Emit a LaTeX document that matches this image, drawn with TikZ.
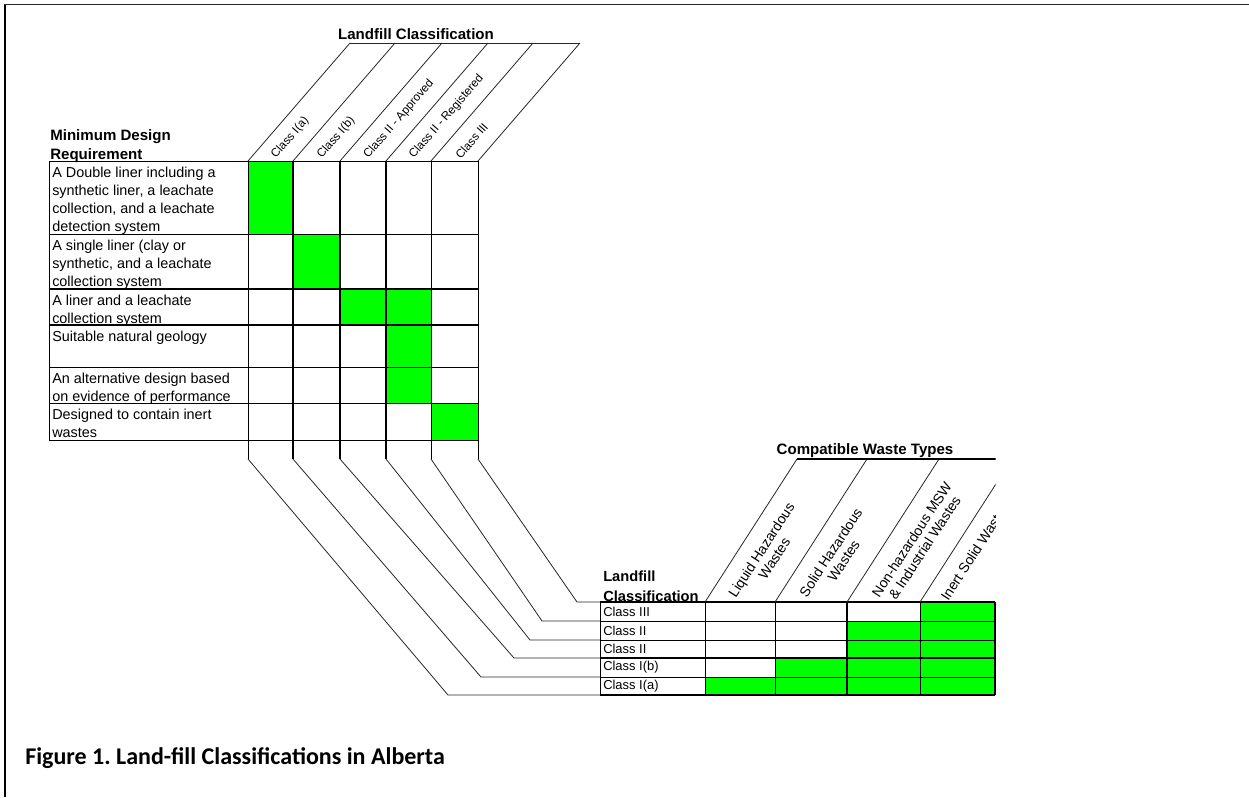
\documentclass[tikz,border=0pt]{standalone}
\usepackage{fontspec}
\setmainfont{Liberation Sans}
\newfontfamily\captionfont{Carlito}
\usepackage{tikz}
\usetikzlibrary{positioning}
\frenchspacing
\definecolor{cellgreen}{RGB}{0,255,0}
\tikzstyle{req} = [anchor=north west, inner sep=0pt, align=left, text=black, font=\fontsize{10.8}{13.5}\selectfont]
\tikzstyle{head} = [anchor=north west, inner sep=0pt, align=left, text=black, font=\bfseries\fontsize{11.3}{14.5}\selectfont]
\tikzstyle{rowlabel} = [anchor=west, inner sep=0pt, text=black, font=\fontsize{9.7}{11}\selectfont]

\begin{document}
\begin{tikzpicture}[x=0.75pt, y=-0.75pt,
  gridline/.style={line width=0.75pt, black},
  boldline/.style={line width=1.5pt, black},
  slant/.style={line width=0.6pt, black!85},
  classlabel/.style={anchor=west, rotate=49, inner sep=0pt, font=\fontsize{8.8}{10}\selectfont},
  wastelabel/.style={anchor=west, rotate=57, inner sep=0pt, align=center, font=\fontsize{10.5}{11.5}\selectfont}]
  \useasboundingbox (0,0) rectangle (1249,797);
  % draw page frame
  \draw[line width=1.5pt] (5,797) -- (5,4.5);
  \draw[line width=1.2pt, black!85] (4,4.5) -- (1249,4.5);
  % draw green cells of design table
  \foreach \xa/\ya/\xb/\yb in {248/161/293/234, 293/234/340/289, 340/289/431/325, 386/325/431/403, 431/403/478/440}
    \fill[cellgreen] (\xa,\ya) rectangle (\xb,\yb);
  % draw grid of design table
  \foreach \y in {161,234,367,403,440}
    \draw[gridline] (49,\y) -- (478,\y);
  \foreach \y in {289,325}
    \draw[boldline] (49,\y) -- (478,\y);
  \draw[gridline] (49,161) -- (49,440);
  \foreach \x in {248,431,478}
    \draw[gridline] (\x,161) -- (\x,459);
  \foreach \x in {293,340,386}
    \draw[boldline] (\x,161) -- (\x,459);
  % draw slanted column heads
  \foreach \x in {248,293,340,386,431,478}
    \draw[slant] (\x,161) -- ++(102,-118);
  \draw[slant] (350,43) -- (580,43);
  \node[font=\bfseries\fontsize{11.3}{12}\selectfont, inner sep=0pt] (design) at (416,34) {Landfill Classification};
  \foreach \t/\x [count=\i] in {Class I(a)/270.5, Class I(b)/316.5, Class II - Approved/363, Class II - Registered/408.5, Class III/454.5}
    \node[classlabel] (cl\i) at (\x+3,157) {\t};
  % draw requirement texts
  \node[head] (minreq) at (50,129) {Minimum Design\\Requirement};
  \foreach \r/\t [count=\i] in {161/{A Double liner including a\\synthetic liner, a leachate\\collection, and a leachate\\detection system},
      234/{A single liner (clay or\\synthetic, and a leachate\\collection system},
      289/{A liner and a leachate\\collection system},
      325/{Suitable natural geology},
      367/{An alternative design based\\on evidence of performance},
      403/{Designed to contain inert\\wastes}}
    \node[req] (req\i) at (52,\r+6) {\t};
  % draw green cells of waste table
  \foreach \xa/\ya/\xb/\yb in {920/602/995/621, 847/621/995/658, 775/658/995/677, 705/677/995/695}
    \fill[cellgreen] (\xa,\ya) rectangle (\xb,\yb);
  % draw grid of waste table
  \foreach \y in {621,640,677}
    \draw[gridline] (600,\y) -- (995,\y);
  \foreach \y in {602,658,695}
    \draw[boldline] (600,\y) -- (995,\y);
  \draw[gridline] (600,602) -- (600,695);
  \foreach \x in {705,775,920}
    \draw[gridline] (\x,602) -- (\x,695);
  \foreach \x in {847,995}
    \draw[boldline] (\x,602) -- (\x,695);
  % draw slanted waste heads, cut at the right edge
  \begin{scope}
    \clip (0,0) rectangle (995.5,797);
    \foreach \x in {705,775,847,920}
      \draw[slant] (\x,602) -- ++(92,-143);
    \draw[boldline] (797,459) -- (1000,459);
    \foreach \t/\x [count=\i] in {{Liquid Hazardous\\Wastes}/738, {Solid Hazardous\\Wastes}/809, {Non-hazardous MSW\\\& Industrial Wastes}/881.5}
      \node[wastelabel] (wl\i) at (\x,600) {\t};
    \node[wastelabel] (wl4) at (944,599) {Inert Solid Wastes};
  \end{scope}
  \node[font=\bfseries\fontsize{11.3}{12}\selectfont, inner sep=0pt] (waste) at (865,451) {Compatible Waste Types};
  \node[head, font=\bfseries\fontsize{11}{15}\selectfont] (clshead) at (603,571) {Landfill\\Classification};
  \foreach \t/\y [count=\i] in {Class III/611.5, Class II/630.5, Class II/649, Class I(b)/667.5, Class I(a)/686}
    \node[rowlabel] (row\i) at (603,\y) {\t};
  % draw links from design columns to waste rows
  \foreach \x/\bx/\by [count=\i] in {248/448/695, 293/481/677, 340/514/658, 386/530/640, 431/542/621, 478/577/602} {
    \coordinate (s\i) at (\x,459);
    \coordinate (b\i) at (\bx,\by);
    \coordinate (t\i) at (600,\by);
    \draw[slant] (s\i) -- (b\i) -- (t\i);
  }
  % caption
  \node[anchor=base west, inner sep=0pt, font=\captionfont\bfseries\fontsize{18}{20}\selectfont] (caption) at (25,764) {Figure 1. Land-fill Classifications in Alberta};
\end{tikzpicture}
\end{document}
